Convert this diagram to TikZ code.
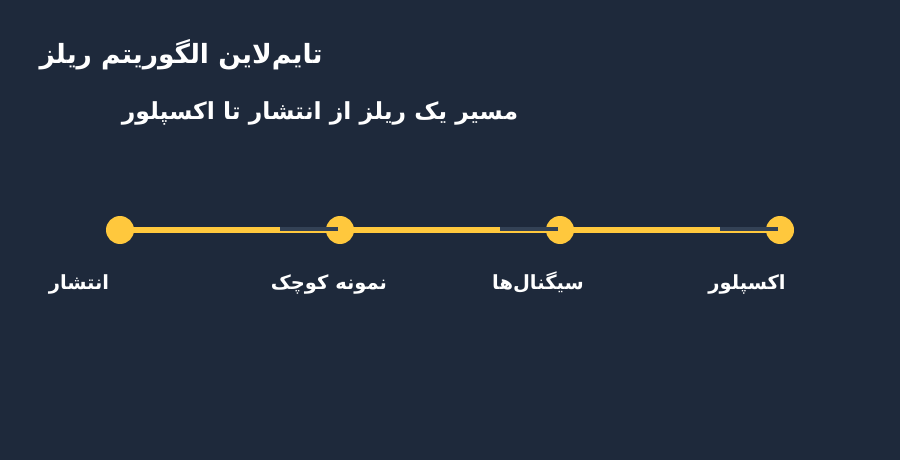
\documentclass[tikz,border=0pt]{standalone}
\usepackage{fontspec}
\newfontfamily\fa[Script=Arabic]{DejaVu Sans}
\TeXXeTstate=1
\definecolor{bg}{HTML}{1E293B}
\definecolor{yl}{HTML}{FFC83D}
\definecolor{gr}{HTML}{334155}
\tikzset{
  dot/.style={circle, fill=yl, inner sep=0pt, minimum size=28pt},
  axis/.style={draw=yl, line width=6pt},
  tick/.style={draw=gr, line width=4pt},
  titletext/.style={text=white, inner sep=0pt, font=\fa\bfseries\fontsize{26.5}{30}\selectfont},
  subtext/.style={text=white, inner sep=0pt, font=\fa\bfseries\fontsize{23.5}{28}\selectfont},
  labeltext/.style={text=white, inner sep=0pt, anchor=base, font=\fa\bfseries\fontsize{19.5}{23}\selectfont}
}
\begin{document}
\begin{tikzpicture}[x=1pt,y=-1pt]
\fill[bg] (0,0) rectangle (900,460);
\useasboundingbox (0,0) rectangle (900,460);
\coordinate (c1) at (120,230);
\coordinate (c2) at (340,230);
\coordinate (c3) at (560,230);
\coordinate (c4) at (780,230);
\draw[axis] (c1) -- (c4);
\node[dot] (p1) at (c1) {};
\node[dot] (p2) at (c2) {};
\node[dot] (p3) at (c3) {};
\node[dot] (p4) at (c4) {};
\coordinate (g1a) at (280,229); \coordinate (g1b) at (338,229);
\coordinate (g2a) at (500,229); \coordinate (g2b) at (558,229);
\coordinate (g3a) at (720,229); \coordinate (g3b) at (778,229);
\draw[tick] (g1a) -- (g1b);
\draw[tick] (g2a) -- (g2b);
\draw[tick] (g3a) -- (g3b);
\node[titletext] (title) at (181,55) {\beginR تایم‌لاین الگوریتم ریلز\endR};
\node[subtext] (sub) at (320,113) {\beginR مسیر یک ریلز از انتشار تا اکسپلور\endR};
\node[labeltext] (l1) at (79,289) {\beginR انتشار\endR};
\node[labeltext] (l2) at (329,289) {\beginR نمونه کوچک\endR};
\node[labeltext] (l3) at (538,289) {\beginR سیگنال‌ها\endR};
\node[labeltext] (l4) at (747,289) {\beginR اکسپلور\endR};
\end{tikzpicture}
\end{document}
